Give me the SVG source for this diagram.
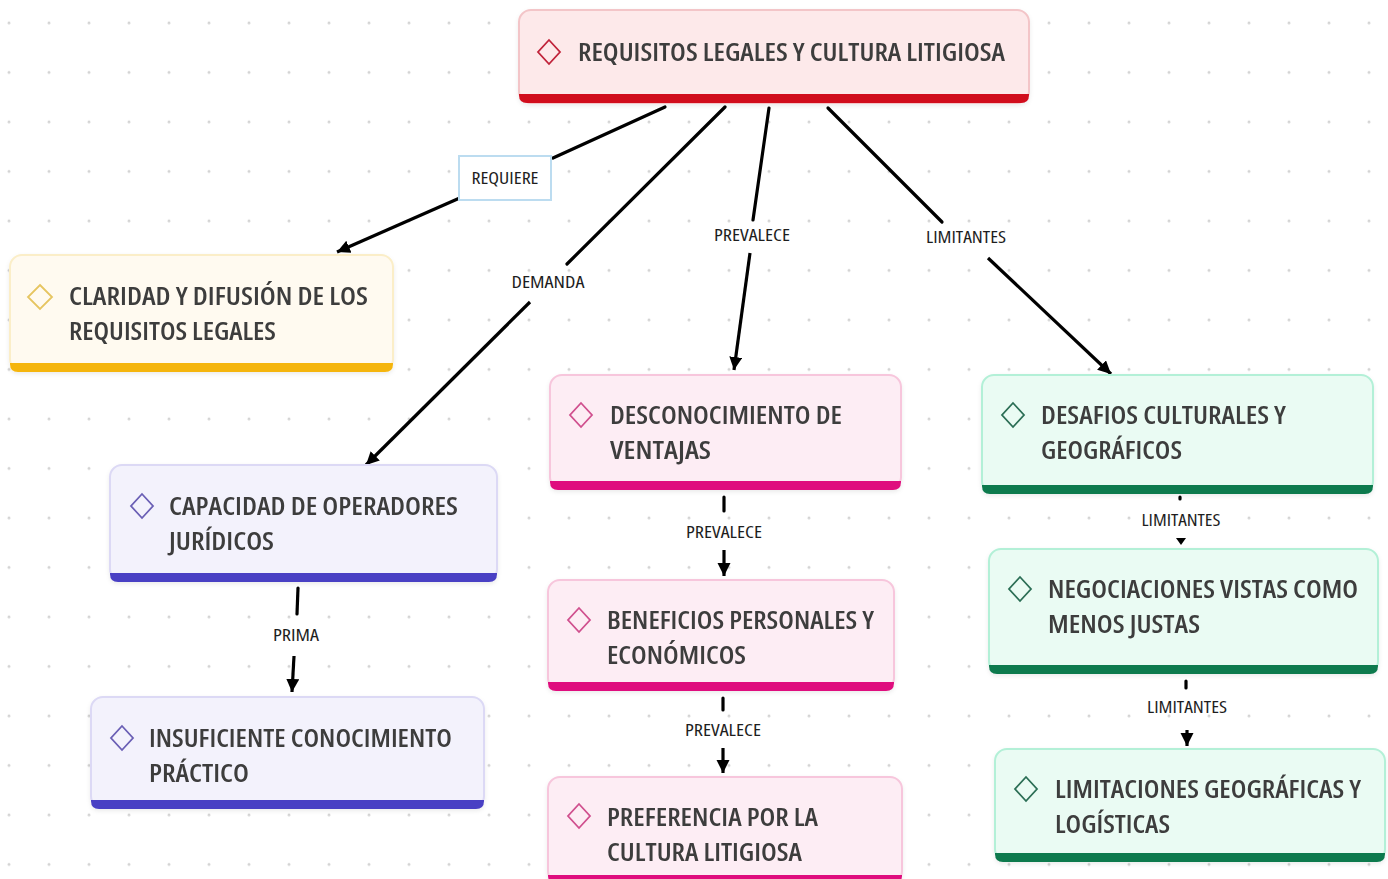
<svg xmlns="http://www.w3.org/2000/svg" width="1388" height="879" viewBox="0 0 1388 879">
<style>
.t{font-family:"Open Sans","Noto Sans","DejaVu Sans",sans-serif;font-size:26px;font-weight:600;fill:#3d3d3d;font-stretch:condensed}
.l{font-family:"Open Sans","Noto Sans","DejaVu Sans",sans-serif;font-size:16px;fill:#1e1e1e;font-stretch:condensed;text-anchor:middle}
.c{stroke:#000;stroke-width:3.2;fill:none;stroke-linecap:round}
.a{stroke:#000;stroke-width:3.2;fill:none;marker-end:url(#arr)}
.dm{fill:none;stroke-width:1.8}
.red .bx{fill:#fde9ea;stroke:#f3c5c8}.red .bar{fill:#d10a1d}.red .dm{stroke:#c0243a}
.yel .bx{fill:#fffaf0;stroke:#fbeec8}.yel .bar{fill:#f5b50a}.yel .dm{stroke:#e6c560}
.pur .bx{fill:#f3f2fc;stroke:#dcd9f5}.pur .bar{fill:#4a40c4}.pur .dm{stroke:#6a5fb5}
.pnk .bx{fill:#fdedf4;stroke:#f7c6dc}.pnk .bar{fill:#df107e}.pnk .dm{stroke:#d0508e}
.grn .bx{fill:#eafbf3;stroke:#b3f0d7}.grn .bar{fill:#0d7a4e}.grn .dm{stroke:#2c6e55}
.bx{stroke-width:2}
</style>
<defs>
<pattern id="dots" patternUnits="userSpaceOnUse" x="-11" y="-2" width="40" height="49.5">
<circle cx="20" cy="25" r="1.4" fill="#d4d4d4"/>
</pattern>
<marker id="arr" markerUnits="userSpaceOnUse" markerWidth="15" markerHeight="14" refX="13" refY="6.5" orient="auto">
<path d="M0,0 L13,6.5 L0,13 Z" fill="#000"/>
</marker>
<filter id="sh" x="-5%" y="-5%" width="110%" height="120%">
<feDropShadow dx="0" dy="2" stdDeviation="2" flood-color="#000" flood-opacity="0.08"/>
</filter>
</defs>
<rect width="1388" height="879" fill="#ffffff"/>
<rect width="1388" height="879" fill="url(#dots)"/>

<g id="connectors">
<path class="c" d="M665,107 L553,158"/>
<path class="a" d="M462,197 L337,252"/>
<path class="c" d="M725,107 L567,264"/>
<path class="a" d="M530,302 L366,465"/>
<path class="c" d="M769,108 L753,220"/>
<path class="a" d="M750,253 L734,370"/>
<path class="c" d="M828,108 L942,222"/>
<path class="a" d="M988,258 L1111,374"/>
<path class="c" d="M298,588 L297,614"/>
<path class="a" d="M294,656 L292,692"/>
<path class="c" d="M724,497 L724,511"/>
<path class="a" d="M724,550 L724,576"/>
<path class="c" d="M723,698 L723,710"/>
<path class="a" d="M723,748 L723,773"/>
<path class="c" d="M1180,497 L1180,499"/>
<path d="M1176,538 L1186,538 L1181,545 Z" fill="#000"/>
<path class="c" d="M1186,681 L1186,688"/>
<path class="a" d="M1187,730 L1187,746"/>
<rect x="459" y="156" width="92" height="44" fill="#fff" stroke="#bcdcf0" stroke-width="2"/>
<text class="l" x="505" y="184" textLength="67" lengthAdjust="spacingAndGlyphs">REQUIERE</text>
<text class="l" x="548" y="288" textLength="73" lengthAdjust="spacingAndGlyphs">DEMANDA</text>
<text class="l" x="752" y="241" textLength="76" lengthAdjust="spacingAndGlyphs">PREVALECE</text>
<text class="l" x="966" y="243" textLength="80" lengthAdjust="spacingAndGlyphs">LIMITANTES</text>
<text class="l" x="296" y="641" textLength="46" lengthAdjust="spacingAndGlyphs">PRIMA</text>
<text class="l" x="724" y="538" textLength="76" lengthAdjust="spacingAndGlyphs">PREVALECE</text>
<text class="l" x="723" y="736" textLength="76" lengthAdjust="spacingAndGlyphs">PREVALECE</text>
<text class="l" x="1181" y="526" textLength="79" lengthAdjust="spacingAndGlyphs">LIMITANTES</text>
<text class="l" x="1187" y="713" textLength="80" lengthAdjust="spacingAndGlyphs">LIMITANTES</text>
</g>

<g id="n-root" class="red" filter="url(#sh)">
<rect class="bx" x="519" y="10" width="510" height="93" rx="12"/>
<path class="bar" d="M519,94 L1029,94 L1029,95 Q1029,103 1021,103 L527,103 Q519,103 519,95 Z"/>
<path class="dm" d="M549,40 L560,52 L549,64 L538,52 Z"/>
<text class="t" x="578" y="61" textLength="427" lengthAdjust="spacingAndGlyphs">REQUISITOS LEGALES Y CULTURA LITIGIOSA</text>
</g>

<g id="n-claridad" class="yel" filter="url(#sh)">
<rect class="bx" x="10" y="255" width="383" height="116" rx="12"/>
<path class="bar" d="M10,363 L393,363 L393,364 Q393,372 385,372 L18,372 Q10,372 10,364 Z"/>
<path class="dm" d="M40,285 L52,297 L40,309 L28,297 Z"/>
<text class="t" x="69" y="305" textLength="299" lengthAdjust="spacingAndGlyphs">CLARIDAD Y DIFUSIÓN DE LOS</text>
<text class="t" x="69" y="340" textLength="207" lengthAdjust="spacingAndGlyphs">REQUISITOS LEGALES</text>
</g>

<g id="n-capacidad" class="pur" filter="url(#sh)">
<rect class="bx" x="110" y="465" width="387" height="116" rx="12"/>
<path class="bar" d="M110,573 L497,573 L497,574 Q497,582 489,582 L118,582 Q110,582 110,574 Z"/>
<path class="dm" d="M142,494 L153,506 L142,518 L131,506 Z"/>
<text class="t" x="169" y="515" textLength="289" lengthAdjust="spacingAndGlyphs">CAPACIDAD DE OPERADORES</text>
<text class="t" x="169" y="550" textLength="105" lengthAdjust="spacingAndGlyphs">JURÍDICOS</text>
</g>

<g id="n-insuficiente" class="pur" filter="url(#sh)">
<rect class="bx" x="91" y="697" width="393" height="111" rx="12"/>
<path class="bar" d="M91,800 L484,800 L484,801 Q484,809 476,809 L99,809 Q91,809 91,801 Z"/>
<path class="dm" d="M122,726 L133,738 L122,750 L111,738 Z"/>
<text class="t" x="149" y="747" textLength="303" lengthAdjust="spacingAndGlyphs">INSUFICIENTE CONOCIMIENTO</text>
<text class="t" x="149" y="782" textLength="100" lengthAdjust="spacingAndGlyphs">PRÁCTICO</text>
</g>

<g id="n-desconocimiento" class="pnk" filter="url(#sh)">
<rect class="bx" x="550" y="375" width="351" height="114" rx="12"/>
<path class="bar" d="M550,481 L901,481 L901,482 Q901,490 893,490 L558,490 Q550,490 550,482 Z"/>
<path class="dm" d="M581,403 L592,415 L581,427 L570,415 Z"/>
<text class="t" x="610" y="424" textLength="232" lengthAdjust="spacingAndGlyphs">DESCONOCIMIENTO DE</text>
<text class="t" x="610" y="459" textLength="101" lengthAdjust="spacingAndGlyphs">VENTAJAS</text>
</g>

<g id="n-beneficios" class="pnk" filter="url(#sh)">
<rect class="bx" x="548" y="580" width="346" height="110" rx="12"/>
<path class="bar" d="M548,682 L894,682 L894,683 Q894,691 886,691 L556,691 Q548,691 548,683 Z"/>
<path class="dm" d="M579,608 L590,620 L579,632 L568,620 Z"/>
<text class="t" x="607" y="629" textLength="267" lengthAdjust="spacingAndGlyphs">BENEFICIOS PERSONALES Y</text>
<text class="t" x="607" y="664" textLength="139" lengthAdjust="spacingAndGlyphs">ECONÓMICOS</text>
</g>

<g id="n-preferencia" class="pnk" filter="url(#sh)">
<rect class="bx" x="548" y="777" width="354" height="106" rx="12"/>
<path class="bar" d="M548,875 L902,875 L902,876 Q902,884 894,884 L556,884 Q548,884 548,876 Z"/>
<path class="dm" d="M579,804 L590,816 L579,828 L568,816 Z"/>
<text class="t" x="607" y="826" textLength="211" lengthAdjust="spacingAndGlyphs">PREFERENCIA POR LA</text>
<text class="t" x="607" y="861" textLength="195" lengthAdjust="spacingAndGlyphs">CULTURA LITIGIOSA</text>
</g>

<g id="n-desafios" class="grn" filter="url(#sh)">
<rect class="bx" x="982" y="375" width="391" height="118" rx="12"/>
<path class="bar" d="M982,485 L1373,485 L1373,486 Q1373,494 1365,494 L990,494 Q982,494 982,486 Z"/>
<path class="dm" d="M1013,403 L1024,415 L1013,427 L1002,415 Z"/>
<text class="t" x="1041" y="424" textLength="245" lengthAdjust="spacingAndGlyphs">DESAFIOS CULTURALES Y</text>
<text class="t" x="1041" y="459" textLength="141" lengthAdjust="spacingAndGlyphs">GEOGRÁFICOS</text>
</g>

<g id="n-negociaciones" class="grn" filter="url(#sh)">
<rect class="bx" x="989" y="549" width="389" height="124" rx="12"/>
<path class="bar" d="M989,665 L1378,665 L1378,666 Q1378,674 1370,674 L997,674 Q989,674 989,666 Z"/>
<path class="dm" d="M1020,577 L1031,589 L1020,601 L1009,589 Z"/>
<text class="t" x="1048" y="598" textLength="310" lengthAdjust="spacingAndGlyphs">NEGOCIACIONES VISTAS COMO</text>
<text class="t" x="1048" y="633" textLength="152" lengthAdjust="spacingAndGlyphs">MENOS JUSTAS</text>
</g>

<g id="n-limitaciones" class="grn" filter="url(#sh)">
<rect class="bx" x="995" y="749" width="390" height="112" rx="12"/>
<path class="bar" d="M995,853 L1385,853 L1385,854 Q1385,862 1377,862 L1003,862 Q995,862 995,854 Z"/>
<path class="dm" d="M1026,777 L1037,789 L1026,801 L1015,789 Z"/>
<text class="t" x="1055" y="798" textLength="306" lengthAdjust="spacingAndGlyphs">LIMITACIONES GEOGRÁFICAS Y</text>
<text class="t" x="1055" y="833" textLength="115" lengthAdjust="spacingAndGlyphs">LOGÍSTICAS</text>
</g>
</svg>
